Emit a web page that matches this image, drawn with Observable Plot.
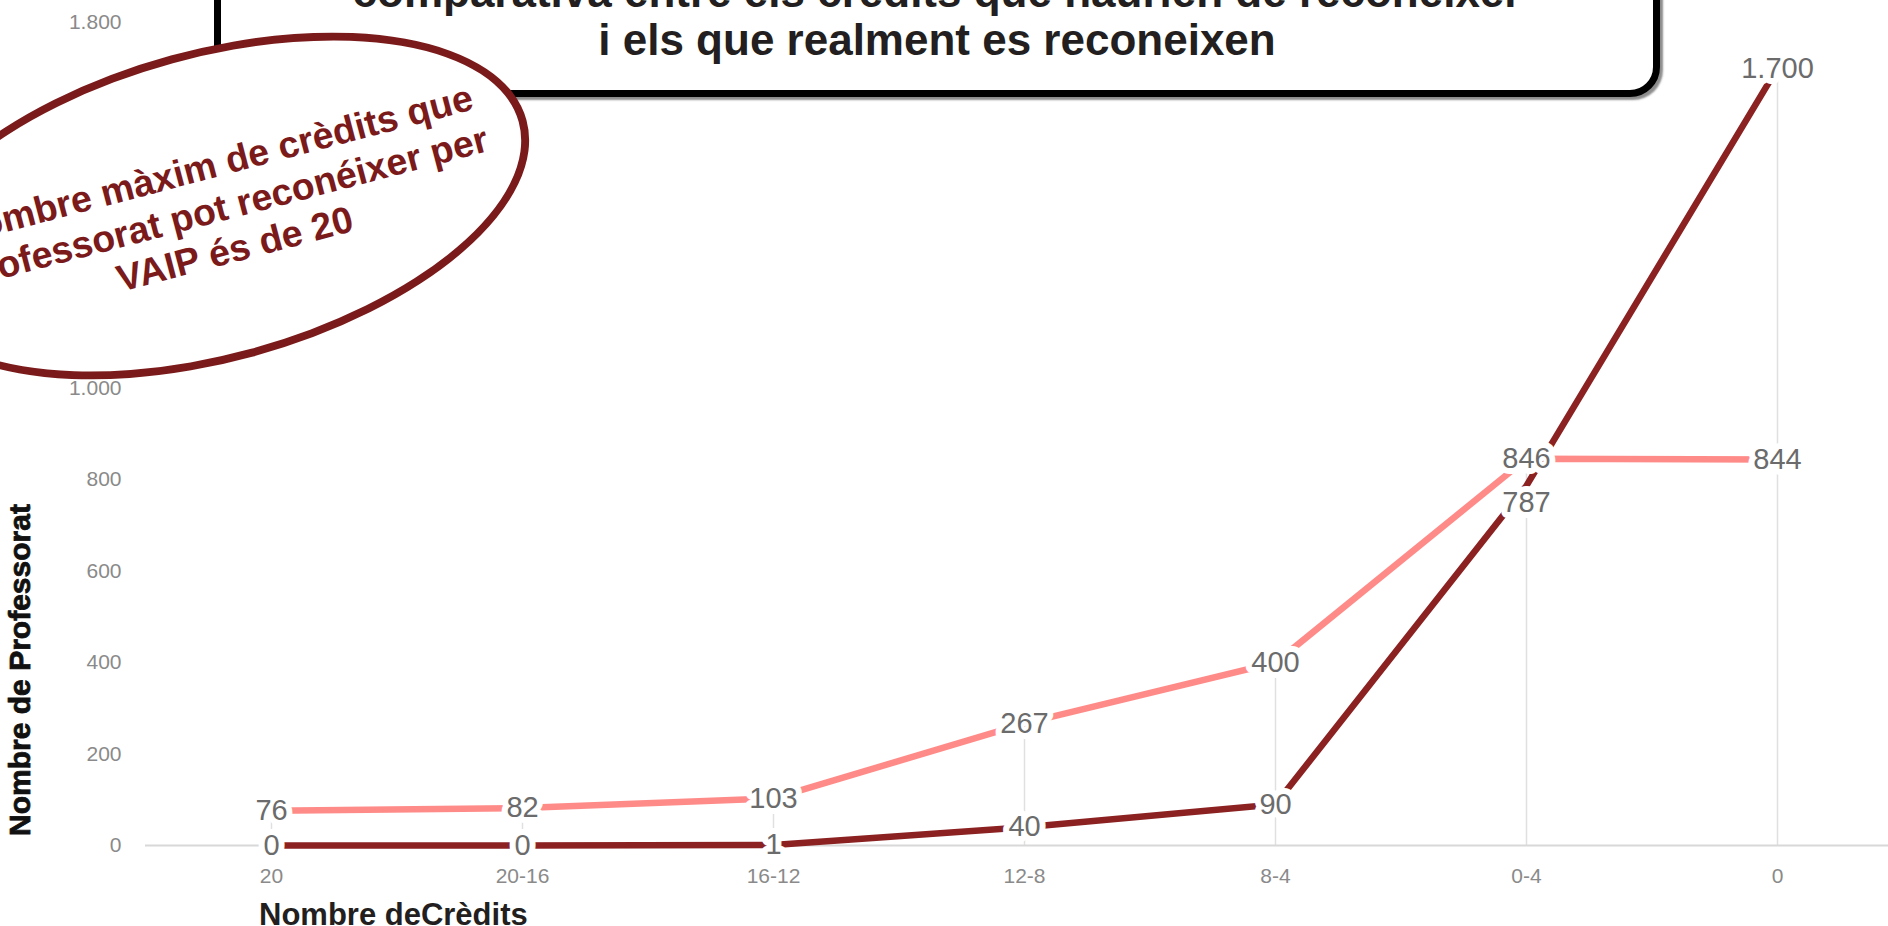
<!DOCTYPE html>
<html>
<head>
<meta charset="utf-8">
<script src="https://cdn.jsdelivr.net/npm/d3@7"></script>
<script src="https://cdn.jsdelivr.net/npm/@observablehq/plot@0.6"></script>
<style>
html, body { margin: 0; padding: 0; background: #fff; overflow: hidden; }
#wrap { position: relative; width: 1888px; height: 926px; overflow: hidden; background: #fff; }
#chart { position: absolute; left: 0; top: 0; }
.titlebox { position: absolute; left: 214px; top: -90px; width: 1446px; height: 187px; box-sizing: border-box;
  border: 7px solid #000; border-radius: 30px; background: #fff; box-shadow: 3px 3px 2px rgba(0,0,0,.45); }
.title { position: absolute; left: 214px; width: 1446px; top: -32px; text-align: center;
  font: bold 44px/48px "Liberation Sans", Arial, sans-serif; color: #231f20; white-space: nowrap; }
.ellipse { position: absolute; left: -114px; top: 50px; width: 652px; height: 312px; box-sizing: border-box;
  border: 8px solid #7b1a1a; border-radius: 50%; background: #fff; transform: rotate(-15.3deg); }
.etext { position: absolute; left: -76px; top: 142px; width: 600px; height: 130.5px; text-align: center;
  font: bold 37.5px/43.5px "Liberation Sans", Arial, sans-serif; color: #7b1a1a; white-space: nowrap;
  transform: rotate(-14.7deg); }
.ytitle { position: absolute; left: -177px; top: 650px; width: 400px; height: 40px; line-height: 40px; text-align: center;
  font: bold 30px "Liberation Sans", Arial, sans-serif; color: #111; transform: rotate(-90deg); white-space: nowrap;
  -webkit-text-stroke: 0.8px #111; }
.xtitle { position: absolute; left: 259px; top: 897px; line-height: 32px;
  font: bold 31px "Liberation Sans Narrow", "Liberation Sans", sans-serif; color: #231f20; white-space: nowrap; }
</style>
</head>
<body>
<div id="wrap">
  <div id="chart"></div>
  <div class="titlebox"></div>
  <div class="title">comparativa entre els crèdits que haurien de reconèixer<br>i els que realment es reconeixen</div>
  <div class="ellipse"></div>
  <div class="etext">Nombre màxim de crèdits que<br>professorat pot reconéixer per<br>VAIP és de 20</div>
  <div class="ytitle">Nombre de Professorat</div>
  <div class="xtitle">Nombre deCrèdits</div>
</div>
<script>
// ---- Data ----
const categories = ["20", "20-16", "16-12", "12-8", "8-4", "0-4", "0"];
const seriesNames = ["Crèdits que haurien de reconèixer", "Crèdits que realment es reconeixen"];
const hauriens = [76, 82, 103, 267, 400, 846, 844];
const reconeixen = [0, 0, 1, 40, 90, 787, 1700];
const yTicks = [0, 200, 400, 600, 800, 1000, 1200, 1400, 1600, 1800];
const seriesColors = ["#ff8b88", "#8b2121"];

// ---- Build table ----
const rows = [];
categories.forEach((c, i) => rows.push({cat: c, serie: seriesNames[0], value: hauriens[i], i}));
categories.forEach((c, i) => rows.push({cat: c, serie: seriesNames[1], value: reconeixen[i], i}));
const drops = categories.map((c, i) => ({cat: c, max: Math.max(hauriens[i], reconeixen[i])}));

const fmt = d3.formatLocale({decimal: ",", thousands: ".", grouping: [3], currency: ["", "€"]}).format(",d");

// label of the second series at "0-4" is nudged below to avoid overlap
const isShifted = d => d.serie === seriesNames[1] && d.cat === "0-4";

const labelStyle = {
  x: "cat", y: "value", text: d => fmt(d.value),
  fill: "#6b6b6b", stroke: "white", strokeWidth: 12, strokeLinejoin: "round", paintOrder: "stroke",
  fontSize: 29, fontFamily: "Liberation Sans Narrow, Liberation Sans, sans-serif"
};

const chart = Plot.plot({
  width: 1888,
  height: 926,
  marginTop: 22,
  marginBottom: 81,
  marginLeft: 145,
  marginRight: -15,
  style: {fontFamily: "Liberation Sans Narrow, Liberation Sans, sans-serif", fontSize: "21px", background: "white"},
  x: {type: "point", domain: categories, padding: 0.5},
  y: {domain: [0, 1800]},
  color: {domain: seriesNames, range: seriesColors},
  marks: [
    Plot.ruleX(drops, {x: "cat", y1: 0, y2: "max", stroke: "#e0e0e0", strokeWidth: 1.5}),
    Plot.ruleY([0], {stroke: "#d8d8d8", strokeWidth: 2}),
    Plot.line(rows, {x: "cat", y: "value", z: "serie", stroke: "serie", strokeWidth: 6.5, strokeLinecap: "butt"}),
    Plot.text(rows.filter(d => !isShifted(d)), labelStyle),
    Plot.text(rows.filter(isShifted), {...labelStyle, dy: 17}),
    Plot.axisY(yTicks, {tickSize: 0, tickPadding: 24, tickFormat: fmt, fill: "#8a8a8a", fontSize: 21, label: null}),
    Plot.axisX({tickSize: 0, tickPadding: 23, fill: "#8a8a8a", fontSize: 21, label: null})
  ]
});
document.getElementById("chart").appendChild(chart);
</script>
</body>
</html>
